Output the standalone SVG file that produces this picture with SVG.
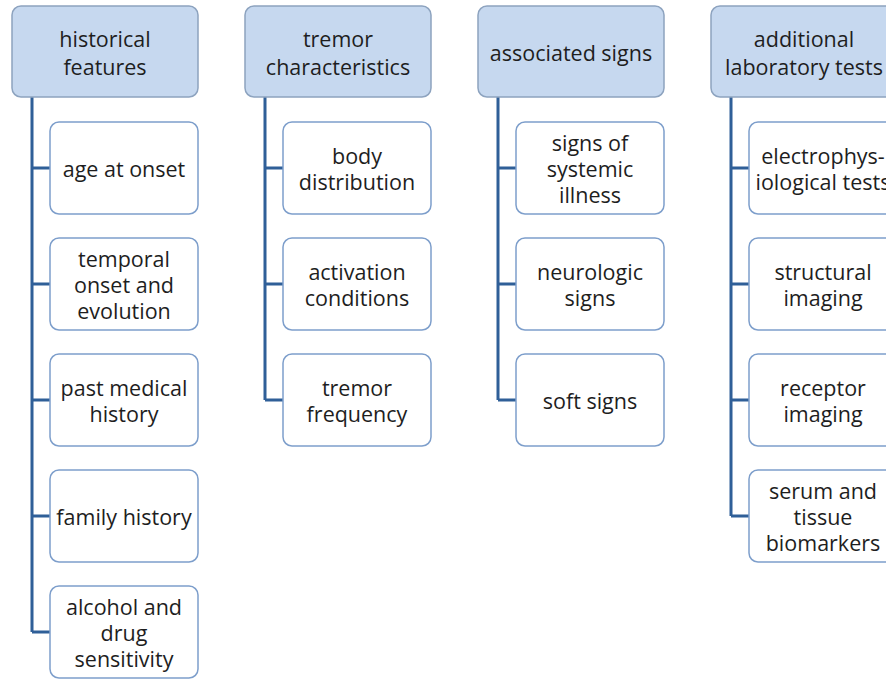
<svg xmlns="http://www.w3.org/2000/svg" width="886" height="680" viewBox="0 0 886 680">
<style>
.hd{fill:#c6d8ef;stroke:#8da3bf;stroke-width:1.5}
.ch{fill:#ffffff;stroke:#7d9ecb;stroke-width:1.5}
.ln{fill:none;stroke:#2f5f98;stroke-width:3}
text{font-family:"Open Sans","Liberation Sans",sans-serif;font-size:21.5px;fill:#1e1e1e;text-anchor:middle;dominant-baseline:central}
</style>
<rect width="886" height="680" fill="#ffffff"/>
<g id="connectors">
<path class="ln" d="M32,97 V632 M32,168 H50 M32,284 H50 M32,400 H50 M32,516 H50 M32,632 H50"/>
<path class="ln" d="M265,97 V400 M265,168 H283 M265,284 H283 M265,400 H283"/>
<path class="ln" d="M498,97 V400 M498,168 H516 M498,284 H516 M498,400 H516"/>
<path class="ln" d="M731,97 V516 M731,168 H749 M731,284 H749 M731,400 H749 M731,516 H749"/>
</g>
<g id="h1"><rect class="hd" x="12" y="6" width="186" height="91" rx="9"/><text x="105" y="38">historical</text><text x="105" y="66">features</text></g>
<g id="h2"><rect class="hd" x="245" y="6" width="186" height="91" rx="9"/><text x="338" y="38">tremor</text><text x="338" y="66">characteristics</text></g>
<g id="h3"><rect class="hd" x="478" y="6" width="186" height="91" rx="9"/><text x="571" y="52">associated signs</text></g>
<g id="h4"><rect class="hd" x="711" y="6" width="186" height="91" rx="9"/><text x="804" y="38">additional</text><text x="804" y="66">laboratory tests</text></g>

<g id="c1a"><rect class="ch" x="50" y="122" width="148" height="92" rx="9"/><text x="124" y="168">age at onset</text></g>
<g id="c1b"><rect class="ch" x="50" y="238" width="148" height="92" rx="9"/><text x="124" y="258">temporal</text><text x="124" y="284">onset and</text><text x="124" y="310">evolution</text></g>
<g id="c1c"><rect class="ch" x="50" y="354" width="148" height="92" rx="9"/><text x="124" y="387">past medical</text><text x="124" y="413">history</text></g>
<g id="c1d"><rect class="ch" x="50" y="470" width="148" height="92" rx="9"/><text x="124" y="516">family history</text></g>
<g id="c1e"><rect class="ch" x="50" y="586" width="148" height="92" rx="9"/><text x="124" y="606">alcohol and</text><text x="124" y="632">drug</text><text x="124" y="658">sensitivity</text></g>

<g id="c2a"><rect class="ch" x="283" y="122" width="148" height="92" rx="9"/><text x="357" y="155">body</text><text x="357" y="181">distribution</text></g>
<g id="c2b"><rect class="ch" x="283" y="238" width="148" height="92" rx="9"/><text x="357" y="271">activation</text><text x="357" y="297">conditions</text></g>
<g id="c2c"><rect class="ch" x="283" y="354" width="148" height="92" rx="9"/><text x="357" y="387">tremor</text><text x="357" y="413">frequency</text></g>

<g id="c3a"><rect class="ch" x="516" y="122" width="148" height="92" rx="9"/><text x="590" y="142">signs of</text><text x="590" y="168">systemic</text><text x="590" y="194">illness</text></g>
<g id="c3b"><rect class="ch" x="516" y="238" width="148" height="92" rx="9"/><text x="590" y="271">neurologic</text><text x="590" y="297">signs</text></g>
<g id="c3c"><rect class="ch" x="516" y="354" width="148" height="92" rx="9"/><text x="590" y="400">soft signs</text></g>

<g id="c4a"><rect class="ch" x="749" y="122" width="148" height="92" rx="9"/><text x="823" y="155">electrophys-</text><text x="823" y="181">iological tests</text></g>
<g id="c4b"><rect class="ch" x="749" y="238" width="148" height="92" rx="9"/><text x="823" y="271">structural</text><text x="823" y="297">imaging</text></g>
<g id="c4c"><rect class="ch" x="749" y="354" width="148" height="92" rx="9"/><text x="823" y="387">receptor</text><text x="823" y="413">imaging</text></g>
<g id="c4d"><rect class="ch" x="749" y="470" width="148" height="92" rx="9"/><text x="823" y="490">serum and</text><text x="823" y="516">tissue</text><text x="823" y="542">biomarkers</text></g>
</svg>
